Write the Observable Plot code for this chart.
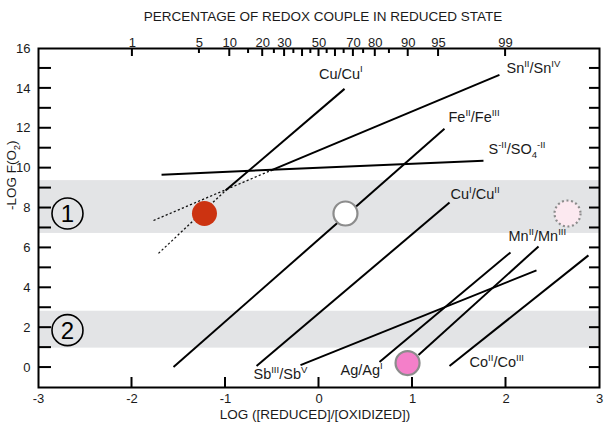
<!DOCTYPE html>
<html><head><meta charset="utf-8">
<script src="https://cdn.jsdelivr.net/npm/d3@7"></script>
<script src="https://cdn.jsdelivr.net/npm/@observablehq/plot@0.6"></script>
<style>
body{margin:0;background:#fff}
svg{font-family:"Liberation Sans",Arial,Helvetica,sans-serif}
</style>
</head><body><div id="chart"></div>
<script>
// Redox couples (solid lines)
const coupleLabels = ["Cu/Cu^I","Sn^II/Sn^IV","S^-II/SO_4^-II","Fe^II/Fe^III","Cu^I/Cu^II","Sb^III/Sb^V","Ag/Ag^I","Mn^II/Mn^III","Co^II/Co^III"];
const lineX1 = [-1.0, -0.519, -1.684, -1.556, -0.668, -0.198, 0.647, 1.064, 1.396];
const lineY1 = [8.875, 9.875, 9.675, 0.025, 0.075, 0.125, 0.275, 0.625, 0.075];
const lineX2 = [0.273, 1.930, 1.759, 1.342, 1.396, 2.326, 2.048, 2.348, 2.882];
const lineY2 = [13.975, 14.675, 10.375, 11.975, 8.275, 4.875, 5.775, 6.075, 5.625];
const labelX = [0.0, 2.005, 1.813, 1.385, 1.406, -0.701, 0.230, 2.027, 1.610];
const labelY = [14.725, 15.025, 10.925, 12.525, 8.675, -0.325, -0.125, 6.575, 0.275];

// Dotted extrapolations (Cu/CuI and SnII/SnIV)
const dashX1 = [-1.717, -1.770];
const dashY1 = [5.725, 7.375];
const dashX2 = [-1.0, -0.519];
const dashY2 = [8.875, 9.875];

// Sample points
const pointX = [-1.225, 0.283, 2.658, 0.947];
const pointY = [7.725, 7.725, 7.725, 0.225];
const pointR = [12.5, 12, 13, 12];
const pointFill = ["#cc3311", "#ffffff", "#fce9f0", "#f47fc9"];
const pointStroke = ["none", "#8c8c8c", "#8c8c8c", "#8c8c8c"];
const pointDash = [null, null, "2,2.6", null];

// Shaded bands and their region numbers
const bandY1 = [6.725, 0.975];
const bandY2 = [9.375, 2.825];
const regionLabels = ["1", "2"];
const regionX = [-2.69, -2.69];
const regionY = [7.725, 1.875];

// Axes
const xLabels = [-3, -2, -1, 0, 1, 2, 3];
const xTicks = [-2, -1, 0, 1, 2];
const yLabels = [0, 2, 4, 6, 8, 10, 12, 14, 16];
const yTicks = [0, 1, 2, 3, 4, 5, 6, 7, 8, 9, 10, 11, 12, 13, 14, 15];
const pctLabels = [1, 5, 10, 20, 30, 50, 70, 80, 90, 95, 99];
const pctMajor = [1, 10, 20, 30, 40, 50, 60, 70, 80, 90, 95, 99];
const pctMinor = [5, 15, 25, 35, 45, 55, 65, 75, 85];
const pctToLog = p => Math.log10(p / (100 - p));

const W = 605, H = 429, mL = 38, mR = 6, mT = 48, mB = 42;
const xDom = [-3, 3], yDom = [-1, 16];

const couples = coupleLabels.map((name, i) => ({name, x1: lineX1[i], y1: lineY1[i], x2: lineX2[i], y2: lineY2[i], lx: labelX[i], ly: labelY[i]}));
const dashes = dashX1.map((d, i) => ({x1: dashX1[i], y1: dashY1[i], x2: dashX2[i], y2: dashY2[i]}));
const points = pointX.map((d, i) => ({x: pointX[i], y: pointY[i], r: pointR[i], fill: pointFill[i], stroke: pointStroke[i], dash: pointDash[i]}));
const bands = bandY1.map((d, i) => ({y1: bandY1[i], y2: bandY2[i]}));
const regions = regionLabels.map((t, i) => ({t, x: regionX[i], y: regionY[i]}));

const chart = Plot.plot({
  width: W, height: H,
  marginLeft: mL, marginRight: mR, marginTop: mT, marginBottom: mB,
  x: {domain: xDom, axis: null},
  y: {domain: yDom, axis: null},
  style: {fontFamily: '"Liberation Sans",Arial,sans-serif', fontSize: "13px", color: "#1a1a1a"},
  marks: [
    Plot.rect(bands, {x1: xDom[0], x2: xDom[1], y1: "y1", y2: "y2", fill: "#e3e4e6"}),
    Plot.link(dashes, {x1: "x1", y1: "y1", x2: "x2", y2: "y2", stroke: "#111", strokeWidth: 1.3, strokeDasharray: "2.2,2.2"}),
    Plot.link(couples, {x1: "x1", y1: "y1", x2: "x2", y2: "y2", stroke: "#000", strokeWidth: 2}),
    ...points.map(p => Plot.dot([p], {x: "x", y: "y", r: p.r, fill: p.fill, stroke: p.stroke === "none" ? null : p.stroke, strokeWidth: 2.2, strokeDasharray: p.dash})),
    Plot.dot(regions, {x: "x", y: "y", r: 15.5, stroke: "#000", strokeWidth: 1.6, fill: "none"}),
    Plot.text(regions, {x: "x", y: "y", text: "t", fontSize: 24, dy: 1, fill: "#000"}),
    Plot.text(couples, {x: "lx", y: "ly", text: "name", textAnchor: "start", fontSize: 14.5, fill: "#1a1a1a", className: "rich"}),
    Plot.frame({stroke: "#000", strokeWidth: 2}),
    // tick labels
    Plot.text(xLabels, {x: d => d, frameAnchor: "bottom", dy: 15, text: d => String(d), fontSize: 13}),
    Plot.text(yLabels, {y: d => d, frameAnchor: "left", dx: -8, textAnchor: "end", text: d => String(d), fontSize: 13}),
    Plot.text(pctLabels, {x: pctToLog, frameAnchor: "top", dy: -11, text: d => String(d), fontSize: 13}),
    // axis titles
    Plot.text(["PERCENTAGE OF REDOX COUPLE IN REDUCED STATE"], {frameAnchor: "top", dx: 4, dy: -37, fontSize: 13.5}),
    Plot.text(["LOG ([REDUCED]/[OXIDIZED])"], {frameAnchor: "bottom", dx: -4, dy: 31, fontSize: 13.5}),
    Plot.text(["-LOG F(O_2)"], {frameAnchor: "left", dx: -27, dy: -8, rotate: -90, fontSize: 13.5, className: "rich"})
  ]
});

// Rich text: superscripts (^) and subscripts (_)
d3.select(chart).selectAll("g.rich text").each(function () {
  const s = this.textContent;
  const parts = s.match(/(\^[^\/_^)]+|_[0-9]+|[^_^]+)/g) || [s];
  const el = d3.select(this);
  const base = parseFloat(el.attr("font-size")) || parseFloat(d3.select(this.parentNode).attr("font-size")) || 13;
  el.text(null);
  let off = 0;
  for (const p of parts) {
    let target = 0, txt = p, small = false;
    if (p[0] === "^") { target = -0.42 * base; txt = p.slice(1); small = true; }
    else if (p[0] === "_") { target = 0.28 * base; txt = p.slice(1); small = true; }
    const t = el.append("tspan").text(txt).attr("dy", target - off);
    if (small) t.attr("font-size", (base * 0.66).toFixed(2));
    off = target;
  }
});

// Inward ticks, positioned with the plot's own x and y scales
const sx = chart.scale("x"), sy = chart.scale("y");
const X0 = sx.apply(xDom[0]), X1 = sx.apply(xDom[1]);
const Y0 = sy.apply(yDom[0]), Y1 = sy.apply(yDom[1]);
const segs = [
  ...yTicks.map(v => [X0, sy.apply(v), X0 + 13, sy.apply(v)]),
  ...yTicks.map(v => [X1 - 10, sy.apply(v), X1, sy.apply(v)]),
  ...xTicks.map(v => [sx.apply(v), Y0, sx.apply(v), Y0 - 10]),
  ...pctMajor.map(p => [sx.apply(pctToLog(p)), Y1, sx.apply(pctToLog(p)), Y1 + 8]),
  ...pctMinor.map(p => [sx.apply(pctToLog(p)), Y1, sx.apply(pctToLog(p)), Y1 + 5])
];
d3.select(chart).append("g").attr("aria-label", "inward ticks")
  .attr("stroke", "#000").attr("stroke-width", 2)
  .selectAll("line").data(segs).join("line")
  .attr("x1", d => d[0]).attr("y1", d => d[1]).attr("x2", d => d[2]).attr("y2", d => d[3]);

document.getElementById("chart").appendChild(chart);
</script>
</body></html>
